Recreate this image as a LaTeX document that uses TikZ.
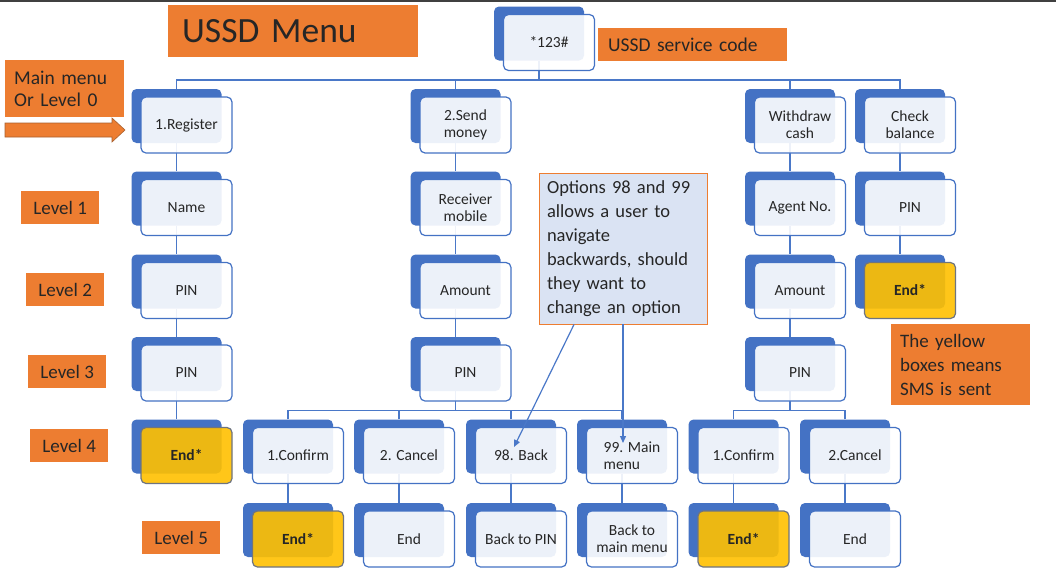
\documentclass[tikz,border=0pt]{standalone}
\usepackage{fontspec}
\setmainfont{Carlito}
\usetikzlibrary{calc,arrows.meta}
\definecolor{ublue}{HTML}{4472C4}
\definecolor{uline}{HTML}{4A78C8}
\definecolor{uyellow}{HTML}{FFC000}
\definecolor{uorange}{HTML}{ED7D31}
\definecolor{ucall}{HTML}{DAE3F3}
\definecolor{utxt}{HTML}{262626}
\definecolor{ygray}{HTML}{6E7480}
\definecolor{aedge}{HTML}{A8602E}
\pgfdeclarelayer{bg}
\pgfsetlayers{bg,main}
\newcommand\ubx[5][front]{%
  \node[back] (#2B) at (#3-10,#4-9) {};
  \node[#1] (#2) at (#3,#4) {#5};}
\begin{document}
\begin{tikzpicture}[x=1pt,y=-1pt,
  back/.style={fill=ublue, rounded corners=5pt, minimum width=90pt, minimum height=54pt, inner sep=0pt},
  front/.style={draw=ublue, line width=1.2pt, rounded corners=5pt, fill=white, fill opacity=0.9, text opacity=1,
    minimum width=91pt, minimum height=56pt, inner sep=2pt, align=center, text=utxt,
    font=\fontsize{15.5}{17}\selectfont},
  yel/.style={front, fill=uyellow, draw=ygray, font=\fontsize{15.5}{17}\selectfont\bfseries},
  frontl/.style={front, align=left},
  link/.style={draw=uline, line width=1.6pt},
  olab/.style={fill=uorange, inner sep=0pt, text=utxt, anchor=north west},
  lvl/.style={olab, minimum width=78pt, minimum height=33pt, align=center, font=\fontsize{19}{23}\selectfont},
  callarrow/.style={draw=uline, line width=1.2pt, -{Triangle[length=7pt,width=6pt]}},
]
\useasboundingbox (0,0) rectangle (1056,584);
\begin{pgfonlayer}{bg}
\fill[white] (0,0) rectangle (1056,584);
\end{pgfonlayer}
\fill[black!75] (0,0) rectangle (1056,1.5);

% title and labels
\node[olab, minimum height=52pt, inner xsep=14pt, text width=222pt, align=left,
  font=\fontsize{35.5}{40}\selectfont] (title) at (168,5) {USSD Menu};
\node[olab, minimum height=33pt, inner xsep=10pt, text width=169pt, align=left,
  font=\fontsize{19.5}{23}\selectfont] (svc) at (598,28) {USSD service code};
\node[olab, minimum height=57pt, inner xsep=9pt, text width=101pt, align=left,
  font=\fontsize{19.5}{22}\selectfont] (lv0) at (5,60) {Main menu\\Or Level 0};
\node[lvl] (lv1) at (21,191) {Level 1};
\node[lvl] (lv2) at (26,273) {Level 2};
\node[lvl] (lv3) at (28,355) {Level 3};
\node[lvl] (lv4) at (30,429) {Level 4};
\node[lvl] (lv5) at (142,521) {Level 5};
\node[olab, minimum height=81pt, inner xsep=9pt, text width=121pt, align=left,
  font=\fontsize{19}{24}\selectfont] (yelnote) at (891,324) {The yellow\\boxes means\\SMS is sent};
\fill[uorange, draw=aedge, line width=0.6pt] (5,123) -- (112,123) -- (112,118) -- (125,130)
  -- (112,142) -- (112,137) -- (5,137) -- cycle;

% boxes
\ubx{top}{549}{42.5}{*123\#}
\ubx{reg}{186.5}{125}{1.Register}
\ubx{send}{465.5}{125}{2.Send\\money}
\ubx{wd}{800}{125}{Withdraw\\cash}
\ubx{chk}{910}{125}{Check\\balance}

\ubx{name}{186.5}{207.5}{Name}
\ubx{recv}{465.5}{207.5}{Receiver\\mobile}
\ubx{agent}{800}{207.5}{Agent No.}
\ubx{pinC}{910}{207.5}{PIN}

\ubx{pinA}{186.5}{290.5}{PIN}
\ubx{amtS}{465.5}{290.5}{Amount}
\ubx{amtW}{800}{290.5}{Amount}
\ubx[yel]{endC}{910}{290.5}{End*}

\ubx{pinA3}{186.5}{373}{PIN}
\ubx{pinS}{465.5}{373}{PIN}
\ubx{pinW}{800}{373}{PIN}

\ubx[yel]{endA}{186.5}{455.5}{End*}
\ubx{confS}{298}{455.5}{1.Confirm}
\ubx{cancS}{409}{455.5}{2. Cancel}
\ubx{bk}{521}{455.5}{98. Back}
\ubx[frontl]{mm}{632}{455.5}{99. Main\\menu}
\ubx{confW}{743.5}{455.5}{1.Confirm}
\ubx{cancW}{855}{455.5}{2.Cancel}

\ubx[yel]{endS}{298}{539}{End*}
\ubx{endS2}{409}{539}{End}
\ubx{bpin}{521}{539}{Back to PIN}
\ubx{bmain}{632}{539}{Back to\\main menu}
\ubx[yel]{endW}{743.5}{539}{End*}
\ubx{endW2}{855}{539}{End}

% connectors
\begin{pgfonlayer}{bg}
\foreach \c in {reg,send,wd,chk}
  \draw[link] (\c B.north) -- ++(0,-9) -| (topB.south);
\draw[link] (regB.south) -- (nameB.north);
\draw[link] (nameB.south) -- (pinAB.north);
\draw[link] (pinAB.south) -- (pinA3B.north);
\draw[link] (pinA3B.south) -- (endAB.north);
\draw[link] (sendB.south) -- (recvB.north);
\draw[link] (recvB.south) -- (amtSB.north);
\draw[link] (amtSB.south) -- (pinSB.north);
\foreach \c in {confS,cancS,bk,mm}
  \draw[link] (\c B.north) -- ++(0,-9) -| (pinSB.south);
\draw[link] (confSB.south) -- (endSB.north);
\draw[link] (cancSB.south) -- (endS2B.north);
\draw[link] (bkB.south) -- (bpinB.north);
\draw[link] (mmB.south) -- (bmainB.north);
\draw[link] (wdB.south) -- (agentB.north);
\draw[link] (agentB.south) -- (amtWB.north);
\draw[link] (amtWB.south) -- (pinWB.north);
\foreach \c in {confW,cancW}
  \draw[link] (\c B.north) -- ++(0,-9) -| (pinWB.south);
\draw[link] (confWB.south) -- (endWB.north);
\draw[link] (cancWB.south) -- (endW2B.north);
\draw[link] (chkB.south) -- (pinCB.north);
\draw[link] (pinCB.south) -- (endCB.north);
\end{pgfonlayer}

% callout
\node[fill=ucall, draw=uorange, line width=0.8pt, minimum width=168pt, minimum height=151pt,
  inner sep=0pt, text width=152pt, align=left, text=utxt,
  font=\fontsize{18.5}{24}\selectfont] (callout) at (623,248.5)
  {Options 98 and 99\\allows a user to\\navigate\\backwards, should\\they want to\\change an option};
\coordinate (t98) at (514,447);
\coordinate (t99) at (623,443);
\draw[callarrow] ($(callout.south west)!0.21!(callout.south east)$) -- (t98);
\draw[callarrow] (callout.south) -- (t99);
\end{tikzpicture}
\end{document}
